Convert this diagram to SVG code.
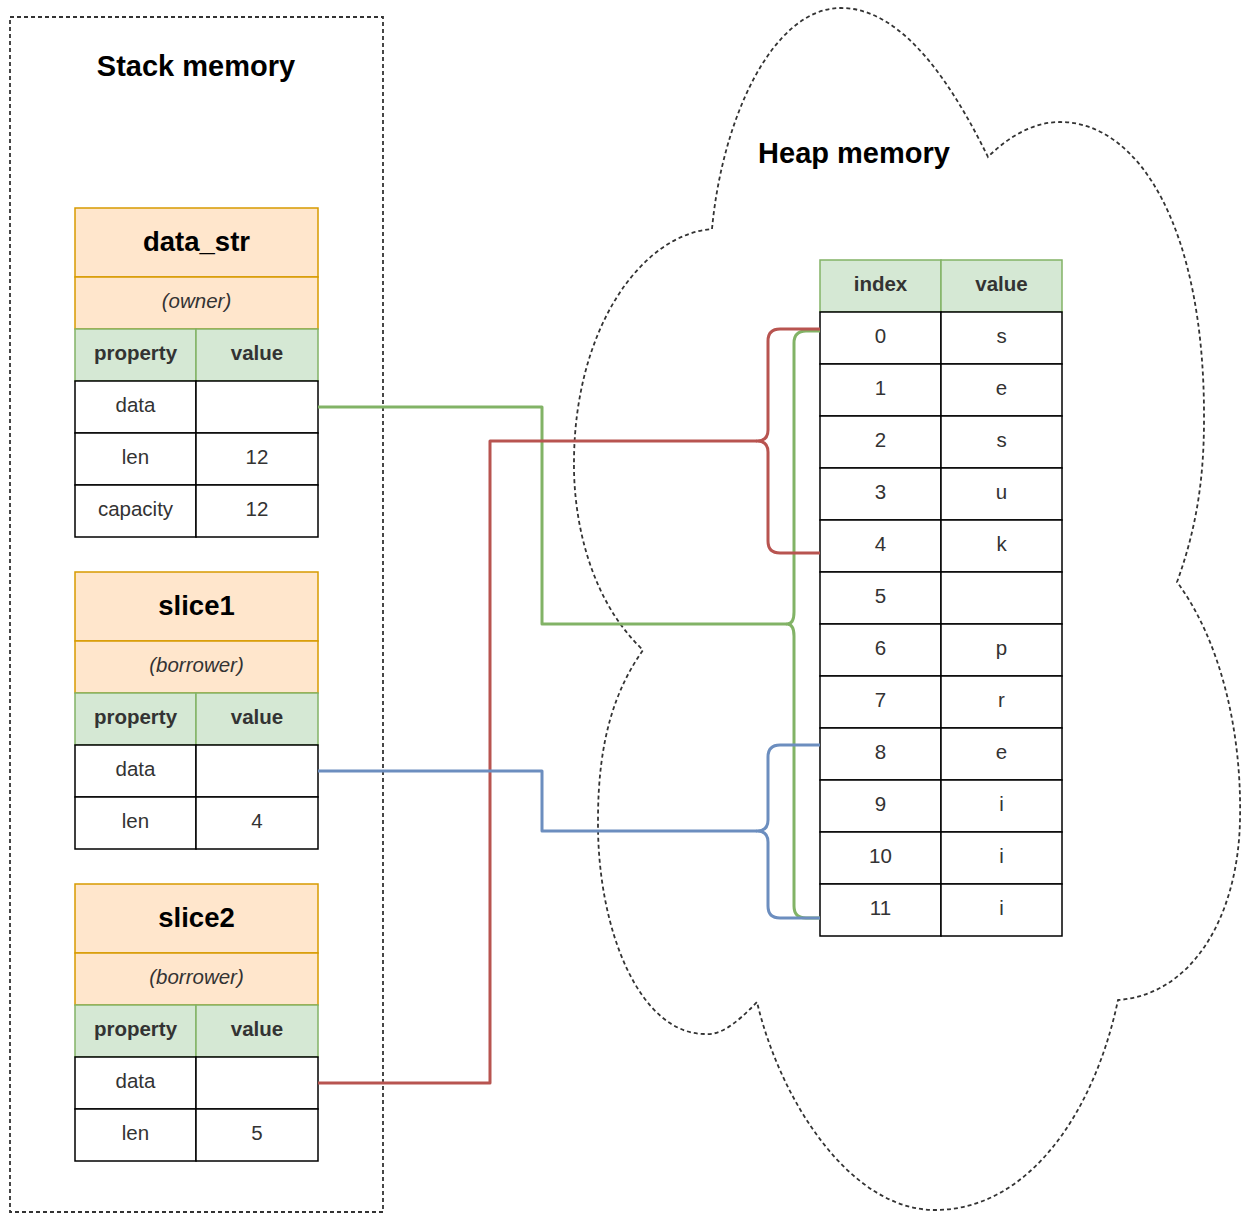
<svg xmlns="http://www.w3.org/2000/svg" width="1244" height="1213" viewBox="0 0 1244 1213">
<style>
  text { font-family: "Liberation Sans", Arial, sans-serif; text-anchor: middle; dominant-baseline: central; fill: #333333; font-size: 20.5px; }
  .title { font-size: 27.5px; font-weight: bold; fill: #000000; }
  .region { font-size: 29px; font-weight: bold; fill: #000000; }
  .hdr { font-weight: bold; }
  .it { font-style: italic; }
  .dash { fill: none; stroke: #333333; stroke-width: 1.8; stroke-dasharray: 4 3; }
  .orange { fill: #ffe6cc; stroke: #d79b00; stroke-width: 1.5; }
  .green { fill: #d5e8d4; stroke: #82b366; stroke-width: 1.5; }
  .cell { fill: #ffffff; stroke: #000000; stroke-width: 1.5; }
  .conn { fill: none; stroke-width: 3; stroke-linejoin: round; }
  .cg { stroke: #82b366; }
  .cr { stroke: #b85450; }
  .cb { stroke: #6c8ebf; }
</style>

<g id="stack-memory">
  <rect class="dash" x="10" y="17" width="373" height="1195"/>
  <text class="region" x="196" y="66">Stack memory</text>
</g>

<g id="heap-memory">
  <path class="dash" d="M712,229 C722,120 772,8 841,8 C905,8 955,90 988,157 C1010,135 1035,122 1060,122 C1140,122 1205,230 1204,420 C1204,480 1196,530 1177,582 C1220,640 1242,730 1240,820 C1238,920 1190,995 1118,1000 C1095,1110 1030,1210 935,1210 C850,1210 780,1100 757,1002 C735,1025 720,1035 706,1034 C640,1035 597,930 598,820 C598,740 615,690 643,650 C590,600 573,520 574,460 C575,330 640,235 712,229 Z"/>
  <text class="region" x="854" y="153">Heap memory</text>
</g>

<g id="data_str">
  <rect class="orange" x="75" y="208" width="243" height="69"/>
  <text class="title" x="196.5" y="241">data_str</text>
  <rect class="orange" x="75" y="277" width="243" height="52"/>
  <text class="it" x="196.5" y="300">(owner)</text>
  <rect class="green" x="75" y="329" width="121" height="52"/>
  <rect class="green" x="196" y="329" width="122" height="52"/>
  <text class="hdr" x="135.5" y="352">property</text>
  <text class="hdr" x="257" y="352">value</text>
  <rect class="cell" x="75" y="381" width="121" height="52"/>
  <rect class="cell" x="196" y="381" width="122" height="52"/>
  <text x="135.5" y="404">data</text>
  <rect class="cell" x="75" y="433" width="121" height="52"/>
  <rect class="cell" x="196" y="433" width="122" height="52"/>
  <text x="135.5" y="456">len</text>
  <text x="257" y="456">12</text>
  <rect class="cell" x="75" y="485" width="121" height="52"/>
  <rect class="cell" x="196" y="485" width="122" height="52"/>
  <text x="135.5" y="508">capacity</text>
  <text x="257" y="508">12</text>
</g>

<g id="slice1">
  <rect class="orange" x="75" y="572" width="243" height="69"/>
  <text class="title" x="196.5" y="605">slice1</text>
  <rect class="orange" x="75" y="641" width="243" height="52"/>
  <text class="it" x="196.5" y="664">(borrower)</text>
  <rect class="green" x="75" y="693" width="121" height="52"/>
  <rect class="green" x="196" y="693" width="122" height="52"/>
  <text class="hdr" x="135.5" y="716">property</text>
  <text class="hdr" x="257" y="716">value</text>
  <rect class="cell" x="75" y="745" width="121" height="52"/>
  <rect class="cell" x="196" y="745" width="122" height="52"/>
  <text x="135.5" y="768">data</text>
  <rect class="cell" x="75" y="797" width="121" height="52"/>
  <rect class="cell" x="196" y="797" width="122" height="52"/>
  <text x="135.5" y="820">len</text>
  <text x="257" y="820">4</text>
</g>

<g id="slice2">
  <rect class="orange" x="75" y="884" width="243" height="69"/>
  <text class="title" x="196.5" y="917">slice2</text>
  <rect class="orange" x="75" y="953" width="243" height="52"/>
  <text class="it" x="196.5" y="976">(borrower)</text>
  <rect class="green" x="75" y="1005" width="121" height="52"/>
  <rect class="green" x="196" y="1005" width="122" height="52"/>
  <text class="hdr" x="135.5" y="1028">property</text>
  <text class="hdr" x="257" y="1028">value</text>
  <rect class="cell" x="75" y="1057" width="121" height="52"/>
  <rect class="cell" x="196" y="1057" width="122" height="52"/>
  <text x="135.5" y="1080">data</text>
  <rect class="cell" x="75" y="1109" width="121" height="52"/>
  <rect class="cell" x="196" y="1109" width="122" height="52"/>
  <text x="135.5" y="1132">len</text>
  <text x="257" y="1132">5</text>
</g>

<g id="heap-array">
  <rect class="green" x="820" y="260" width="121" height="52"/>
  <rect class="green" x="941" y="260" width="121" height="52"/>
  <text class="hdr" x="880.5" y="283">index</text>
  <text class="hdr" x="1001.5" y="283">value</text>
  <g>
    <rect class="cell" x="820" y="312" width="121" height="52"/><rect class="cell" x="941" y="312" width="121" height="52"/>
    <text x="880.5" y="335">0</text><text x="1001.5" y="335">s</text>
    <rect class="cell" x="820" y="364" width="121" height="52"/><rect class="cell" x="941" y="364" width="121" height="52"/>
    <text x="880.5" y="387">1</text><text x="1001.5" y="387">e</text>
    <rect class="cell" x="820" y="416" width="121" height="52"/><rect class="cell" x="941" y="416" width="121" height="52"/>
    <text x="880.5" y="439">2</text><text x="1001.5" y="439">s</text>
    <rect class="cell" x="820" y="468" width="121" height="52"/><rect class="cell" x="941" y="468" width="121" height="52"/>
    <text x="880.5" y="491">3</text><text x="1001.5" y="491">u</text>
    <rect class="cell" x="820" y="520" width="121" height="52"/><rect class="cell" x="941" y="520" width="121" height="52"/>
    <text x="880.5" y="543">4</text><text x="1001.5" y="543">k</text>
    <rect class="cell" x="820" y="572" width="121" height="52"/><rect class="cell" x="941" y="572" width="121" height="52"/>
    <text x="880.5" y="595">5</text>
    <rect class="cell" x="820" y="624" width="121" height="52"/><rect class="cell" x="941" y="624" width="121" height="52"/>
    <text x="880.5" y="647">6</text><text x="1001.5" y="647">p</text>
    <rect class="cell" x="820" y="676" width="121" height="52"/><rect class="cell" x="941" y="676" width="121" height="52"/>
    <text x="880.5" y="699">7</text><text x="1001.5" y="699">r</text>
    <rect class="cell" x="820" y="728" width="121" height="52"/><rect class="cell" x="941" y="728" width="121" height="52"/>
    <text x="880.5" y="751">8</text><text x="1001.5" y="751">e</text>
    <rect class="cell" x="820" y="780" width="121" height="52"/><rect class="cell" x="941" y="780" width="121" height="52"/>
    <text x="880.5" y="803">9</text><text x="1001.5" y="803">i</text>
    <rect class="cell" x="820" y="832" width="121" height="52"/><rect class="cell" x="941" y="832" width="121" height="52"/>
    <text x="880.5" y="855">10</text><text x="1001.5" y="855">i</text>
    <rect class="cell" x="820" y="884" width="121" height="52"/><rect class="cell" x="941" y="884" width="121" height="52"/>
    <text x="880.5" y="907">11</text><text x="1001.5" y="907">i</text>
  </g>
</g>

<g id="connectors">
  <path class="conn cg" d="M318,407 H542 V624 H787"/>
  <path class="conn cg" d="M820,331 H806 Q794,331 794,343 V612 Q794,624 787,624 Q794,624 794,636 V906 Q794,918 806,918 H820"/>
  <path class="conn cr" d="M318,1083 H490 V441 H757"/>
  <path class="conn cr" d="M820,329 H780 Q768,329 768,341 V430 Q768,441 757,441 Q768,441 768,452 V541 Q768,553 780,553 H820"/>
  <path class="conn cb" d="M318,771 H542 V831 H757"/>
  <path class="conn cb" d="M820,745 H780 Q768,745 768,757 V820 Q768,831 757,831 Q768,831 768,842 V906 Q768,918 780,918 H820"/>
</g>
</svg>
